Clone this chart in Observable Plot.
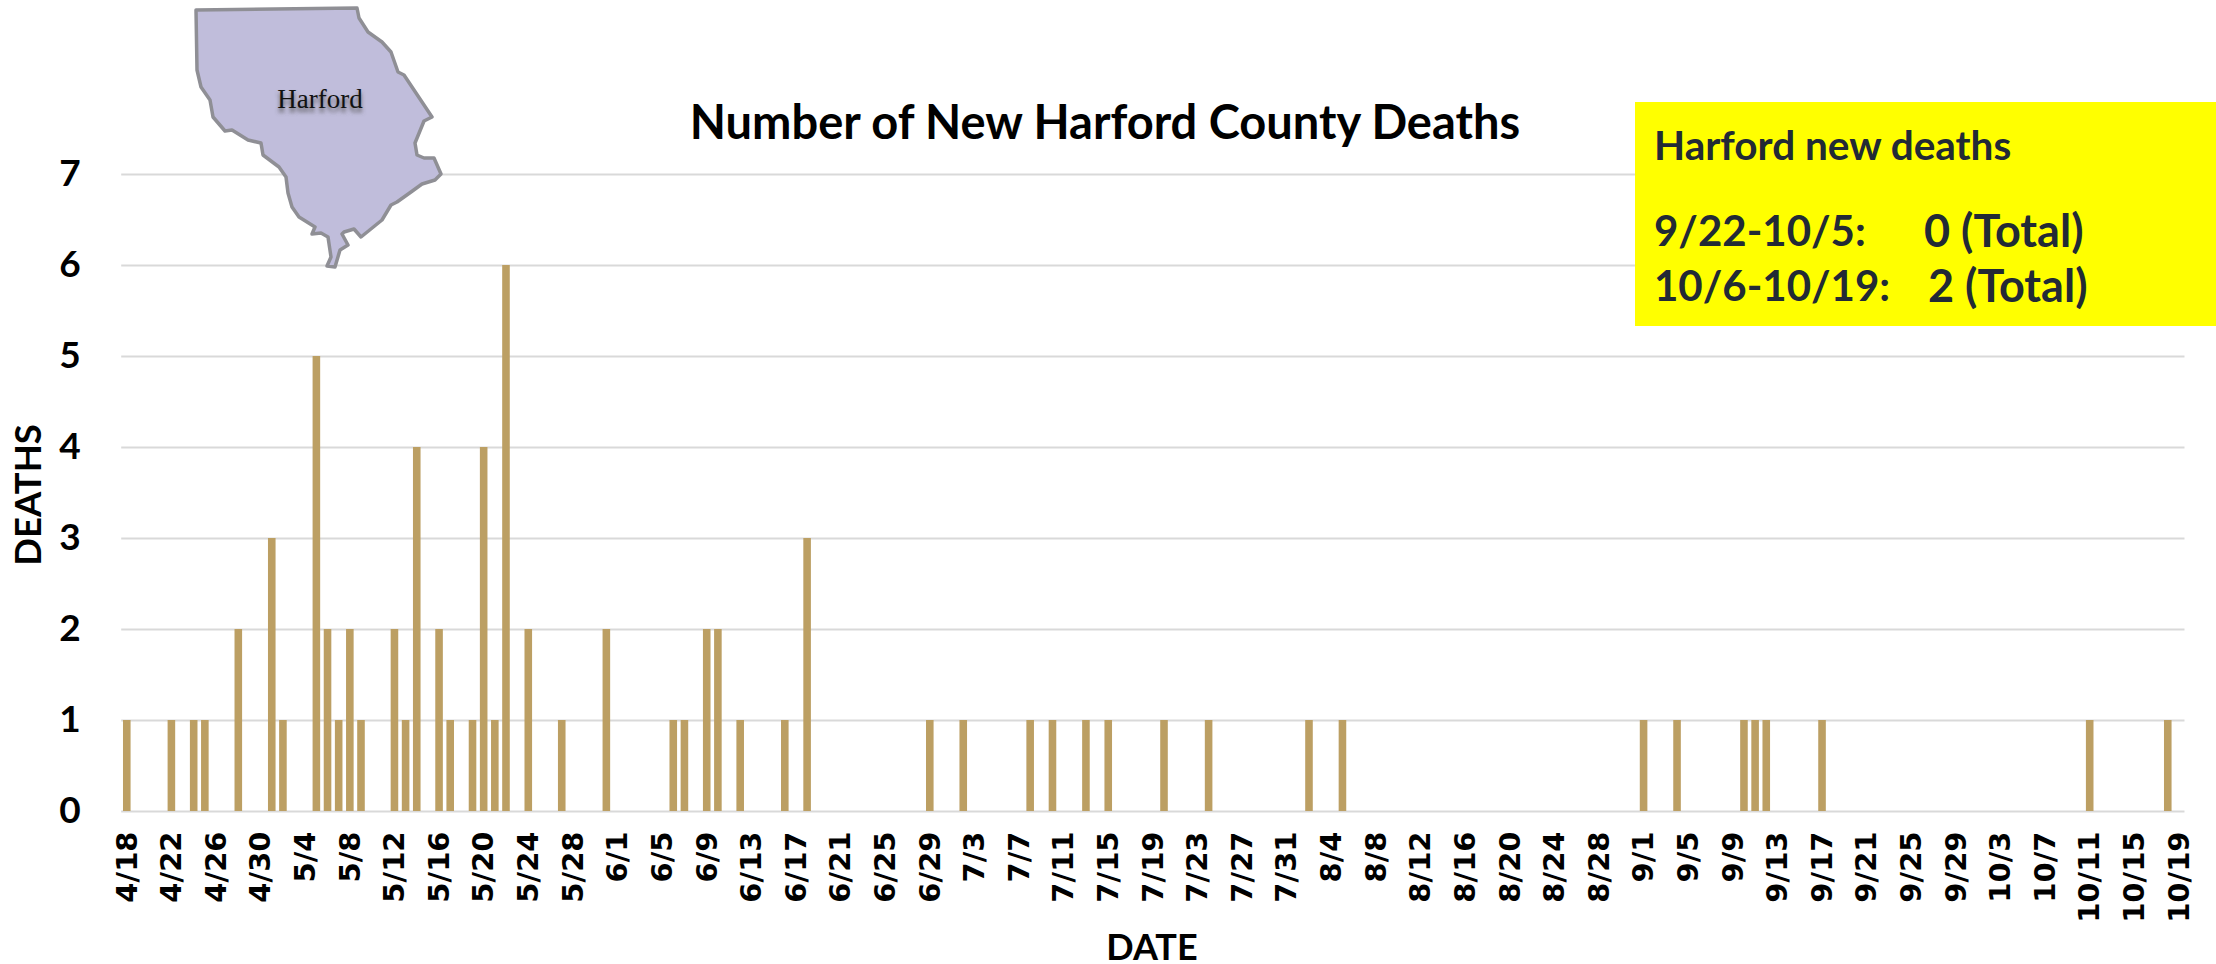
<!DOCTYPE html>
<html>
<head>
<meta charset="utf-8">
<script src="https://cdn.jsdelivr.net/npm/d3@7"></script>
<script src="https://cdn.jsdelivr.net/npm/@observablehq/plot@0.6"></script>
<style>
html,body{margin:0;padding:0;background:#fff;width:2216px;height:964px;overflow:hidden}
#stage{position:relative;width:2216px;height:964px}
#stage>*{position:absolute}
#chart{left:0;top:0}
#chart text{font-weight:700}
.lato{font-family:Lato,sans-serif;font-weight:700}
#title{left:405px;width:1400px;top:93px;text-align:center;font-size:47px;line-height:56px;color:#000}
#box{left:1635px;top:102px;width:581px;height:224px;background:#ffff00;color:#222a35;font-size:41px;line-height:48px}
#box div{position:absolute;white-space:pre}
#map{left:0;top:0}
#xlab{left:952px;width:400px;top:925px;text-align:center;font-size:36px;line-height:42px;color:#000}
#ylab{left:27px;top:495px;transform:translate(-50%,-50%) rotate(-90deg);font-size:36.5px;line-height:40px;color:#000;white-space:nowrap}
</style>
</head>
<body>
<div id="stage"></div>
<script>
const deathDates = ["4/18","4/22","4/24","4/25","4/28","5/1","5/2","5/5","5/6","5/7","5/8","5/9","5/12","5/13","5/14","5/16","5/17","5/19","5/20","5/21","5/22","5/24","5/27","5/31","6/6","6/7","6/9","6/10","6/12","6/16","6/18","6/29","7/2","7/8","7/10","7/13","7/15","7/20","7/24","8/2","8/5","9/1","9/4","9/10","9/11","9/12","9/17","10/11","10/18"];
const deathCounts = [1,1,1,1,2,3,1,5,2,1,2,1,2,1,4,2,1,1,4,1,6,2,1,2,1,1,2,2,1,1,3,1,1,1,1,1,1,1,1,1,1,1,1,1,1,1,1,1,1];
const yTicks = [0,1,2,3,4,5,6,7];
const xTickLabels = ["4/18","4/22","4/26","4/30","5/4","5/8","5/12","5/16","5/20","5/24","5/28","6/1","6/5","6/9","6/13","6/17","6/21","6/25","6/29","7/3","7/7","7/11","7/15","7/19","7/23","7/27","7/31","8/4","8/8","8/12","8/16","8/20","8/24","8/28","9/1","9/5","9/9","9/13","9/17","9/21","9/25","9/29","10/3","10/7","10/11","10/15","10/19"];
const titleText = "Number of New Harford County Deaths";
const boxHeading = "Harford new deaths";
const boxPeriods = ["9/22-10/5:","10/6-10/19:"];
const boxTotals = ["0 (Total)","2 (Total)"];
// county outline for the inset illustration (decorative, in page pixels)
const countyOutline = [[196,10],[357,8],[359,18],[368,32],[382,42],[391,52],[398,72],[404,75],[432,117],[424,121],[415,143],[417,155],[424,158],[434,158],[441,174],[435,180],[422,184],[411,192],[397,202],[391,205],[382,220],[361,237],[354,229],[344,232],[342,234],[348,245],[340,250],[335,267],[327,266],[331,257],[328,237],[321,233],[312,234],[315,227],[299,217],[292,207],[288,193],[286,177],[279,167],[263,155],[261,143],[248,140],[232,130],[225,131],[213,117],[210,100],[201,87],[197,70]];

// every day on the axis, Apr 18 to Oct 19
const allDays = d3.utcDay.range(new Date(Date.UTC(2020,3,18)), new Date(Date.UTC(2020,9,20))).map(d3.utcFormat("%-m/%-d"));
const rows = deathDates.map((d,i)=>({date:d,deaths:deathCounts[i]}));

const chart = Plot.plot({
  width:2216, height:964,
  marginLeft:121.2, marginRight:31.5, marginTop:174, marginBottom:153,
  x:{type:"band",domain:allDays,paddingInner:0.32,paddingOuter:0.16,align:0.5,round:false},
  y:{domain:[0,7]},
  style:{background:"transparent"},
  marks:[
    Plot.ruleY(yTicks,{stroke:"#d9d9d9",strokeWidth:2}),
    Plot.barY(rows,{x:"date",y:"deaths",fill:"#bc9f63"}),
    Plot.axisX({ticks:xTickLabels,tickSize:0,tickPadding:20,tickRotate:-90,label:null,fontSize:29,fontFamily:"DejaVu Sans",fill:"#000"}),
    Plot.axisY({ticks:yTicks,tickFormat:d3.format("d"),tickSize:0,tickPadding:41,label:null,fontSize:37,fontFamily:"Lato",fill:"#000"})
  ]
});
chart.id="chart";
const stage=document.getElementById("stage");
stage.appendChild(chart);

const NS="http://www.w3.org/2000/svg";
const map=document.createElementNS(NS,"svg");
map.setAttribute("id","map");map.setAttribute("width",2216);map.setAttribute("height",964);
map.innerHTML=`<defs><filter id="blur" x="-20%" y="-50%" width="140%" height="200%"><feGaussianBlur stdDeviation="2"/></filter></defs>`;
const poly=document.createElementNS(NS,"polygon");
poly.setAttribute("points",countyOutline.map(p=>p.join(",")).join(" "));
poly.setAttribute("fill","#c0bddb");poly.setAttribute("stroke","#8f8f95");poly.setAttribute("stroke-width","3.5");poly.setAttribute("stroke-linejoin","round");
map.appendChild(poly);
for(const [cls,dy] of [["s",4],["t",0]]){
  const t=document.createElementNS(NS,"text");
  t.textContent="Harford";
  t.setAttribute("x",320);t.setAttribute("y",108+dy);t.setAttribute("text-anchor","middle");
  t.setAttribute("font-family","Liberation Serif");t.setAttribute("font-size","27");
  t.setAttribute("fill",cls==="s"?"#555":"#111");
  if(cls==="s")t.setAttribute("filter","url(#blur)");
  map.appendChild(t);
}
stage.appendChild(map);

function add(id,txt){const d=document.createElement("div");d.id=id;d.className="lato";d.textContent=txt;stage.appendChild(d);return d;}
add("title",titleText);
add("xlab","DATE");
add("ylab","DEATHS");
const box=add("box","");
function boxText(txt,left,top,size){const d=document.createElement("div");d.style.left=left+"px";d.style.top=top+"px";d.style.fontSize=size+"px";d.textContent=txt;box.appendChild(d);}
boxText(boxHeading,19,19,40.5);
boxPeriods.forEach((t,i)=>boxText(t,19,104+i*55,42));
boxTotals.forEach((t,i)=>boxText(t,[289,293][i],104+i*55,45));
</script>
</body>
</html>
